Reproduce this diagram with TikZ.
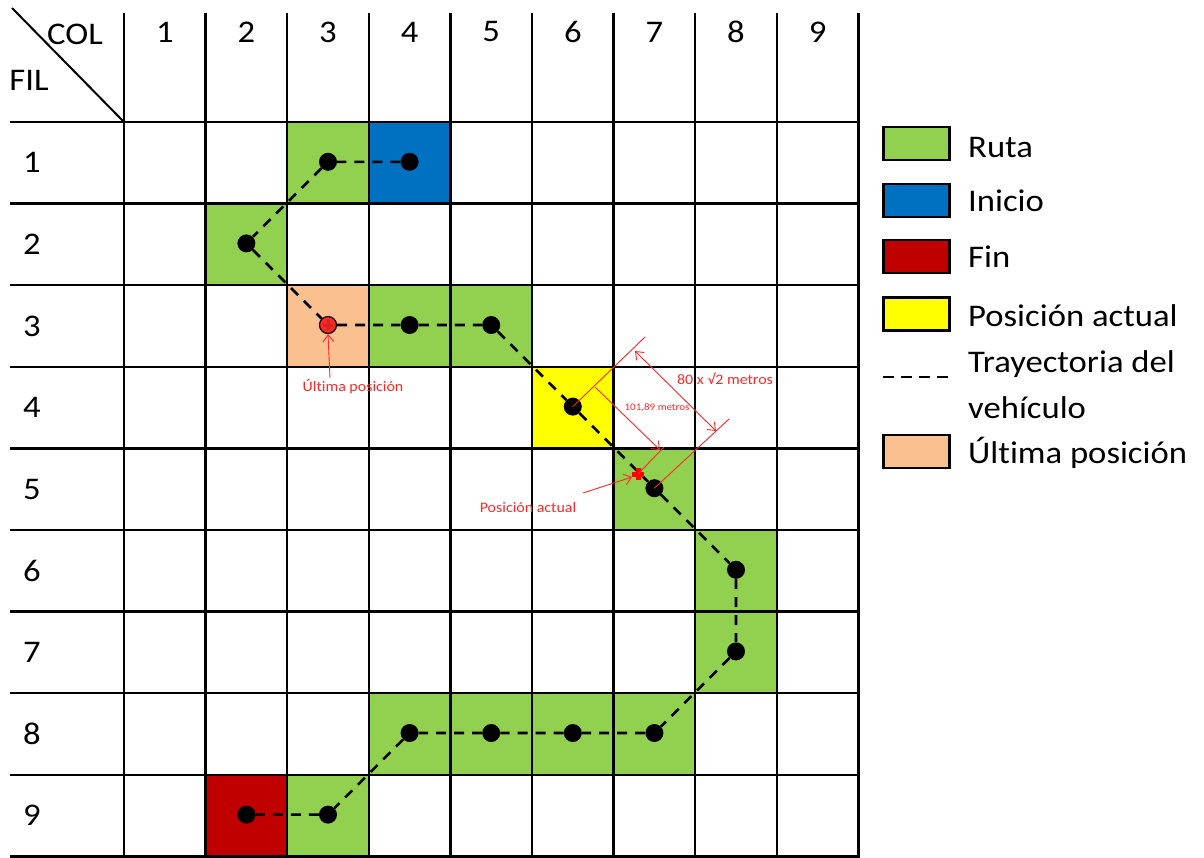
\documentclass[tikz,border=0pt]{standalone}
\usepackage{fontspec}
\setmainfont{Carlito}[FakeStretch=1.1,Ligatures=NoCommon]
\usetikzlibrary{arrows.meta}
\definecolor{ruta}{HTML}{92D050}
\definecolor{inicio}{HTML}{0070C0}
\definecolor{fin}{HTML}{C00000}
\definecolor{actual}{HTML}{FFFF00}
\definecolor{ultima}{HTML}{FAC090}
\definecolor{anno}{HTML}{FF2828}
\newcommand\cellfill[3]{\fill[#3] ({124+(#2-1)*81.6},{122+(#1-1)*81.6}) rectangle ++(81.6,81.6);}
\begin{document}
\begin{tikzpicture}[x=1pt,y=-1pt,
  gridline/.style={line width=2.5pt,black},
  big/.style={font=\fontsize{31.5}{38}\selectfont},
  dot/.style={circle,fill=black,minimum size=18pt,inner sep=0pt},
  traj/.style={line width=2.6pt,dash pattern=on 10pt off 8pt},
  legbox/.style={draw=black,line width=2.5pt,minimum width=66pt,minimum height=33pt,inner sep=0pt},
  legtext/.style={big,anchor=west,inner sep=0pt},
  ann/.style={anno,line width=0.9pt},
  annarrow/.style={ann,-{Straight Barb[length=7pt,width=11pt]}},
  anntext/.style={text=anno,inner sep=0pt}]
\useasboundingbox (0,0) rectangle (1204,857);
% cell colours
\cellfill{1}{3}{ruta}
\cellfill{1}{4}{inicio}
\cellfill{2}{2}{ruta}
\cellfill{3}{3}{ultima}
\cellfill{3}{4}{ruta}
\cellfill{3}{5}{ruta}
\cellfill{4}{6}{actual}
\cellfill{5}{7}{ruta}
\cellfill{6}{8}{ruta}
\cellfill{7}{8}{ruta}
\cellfill{8}{4}{ruta}
\cellfill{8}{5}{ruta}
\cellfill{8}{6}{ruta}
\cellfill{8}{7}{ruta}
\cellfill{9}{2}{fin}
\cellfill{9}{3}{ruta}
% grid
\foreach \i in {0,...,9} \draw[gridline] ({124+\i*81.6},13) -- ({124+\i*81.6},858);
\foreach \j in {0,...,9} \draw[gridline] (10,{122+\j*81.6}) -- (858,{122+\j*81.6});
\draw[line width=2pt] (12,8) -- (124,122);
% headers
\node[big] (hcol) at (75,34) {COL};
\node[big] (hfil) at (29,80) {FIL};
\foreach \c in {1,...,9} \node[big] (c\c) at ({124+(\c-0.5)*81.6},32) {\c};
\foreach \r in {1,...,9} \node[big] (r\r) at (32,{122+(\r-0.5)*81.6}) {\r};
% dots (row, col)
\foreach \n/\r/\c in {1/1/4,2/1/3,3/2/2,5/3/4,6/3/5,7/4/6,8/5/7,9/6/8,10/7/8,11/8/7,12/8/6,13/8/5,14/8/4,15/9/3,16/9/2}
  \node[dot] (d\n) at ({124+(\c-0.5)*81.6},{122+(\r-0.5)*81.6-1}) {};
\node[dot,fill=anno,draw=black,line width=1.2pt,minimum size=17pt] (d4) at ({124+2.5*81.6},{122+2.5*81.6-1}) {};
% trajectory
\draw[traj] (d1) -- (d2) -- (d3) -- (d4) -- (d5) -- (d6) -- (d7) -- (d8) -- (d9) -- (d10) -- (d11) -- (d12) -- (d13) -- (d14) -- (d15) -- (d16);
\draw[anno!85!black,line width=3pt] ([xshift=-5pt]d4.center) -- ([xshift=5pt]d4.center) ([yshift=-5pt]d4.center) -- ([yshift=5pt]d4.center);
% current position cross
\coordinate (cross) at (638,474);
\fill[red] ([shift={(-6,-2.5)}]cross) rectangle ([shift={(6,2.5)}]cross);
\fill[red] ([shift={(-2.5,-6)}]cross) rectangle ([shift={(2.5,6)}]cross);
% dimension annotations
\coordinate (e1a) at (d7.center);
\coordinate (e1b) at (645,337);
\coordinate (e2a) at (d8.center);
\coordinate (e2b) at (729,419);
\coordinate (e3b) at (664,447);
\draw[ann] (e1a) -- (e1b);
\draw[ann] (e2a) -- (e2b);
\draw[ann] (cross) -- (e3b);
\coordinate (m1a) at (635,351);
\coordinate (m1b) at (716,431);
\draw[ann,{Straight Barb[length=7pt,width=11pt]}-{Straight Barb[length=7pt,width=11pt]}] (m1a) -- (m1b);
\coordinate (m2a) at (595,387);
\coordinate (m2b) at (660,450);
\draw[annarrow] (m2a) -- (m2b);
\node[anntext,font=\fontsize{14.5}{17}\selectfont] (l80) at (725,379) {80 x √2 metros};
\node[anntext,font=\fontsize{10}{12}\selectfont] (l101) at (657,408) {101,89 metros};
% labels with arrows
\node[anntext,font=\fontsize{14.5}{17}\selectfont] (lult) at (353,387) {Última posición};
\coordinate (lultarr) at (330,378);
\draw[annarrow] (lultarr) -- (d4.south);
\node[anntext,font=\fontsize{14.5}{17}\selectfont] (lact) at (528,508) {Posición actual};
\coordinate (lactarr) at (583,493);
\draw[annarrow] (lactarr) -- ([shift={(-6,3)}]cross);
% legend
\node[legbox,fill=ruta] (lg1) at (916.5,143.5) {};
\node[legbox,fill=inicio] (lg2) at (916.5,200.5) {};
\node[legbox,fill=fin] (lg3) at (916.5,256.5) {};
\node[legbox,fill=actual] (lg4) at (916.5,314) {};
\coordinate (lg5a) at (883,377);
\coordinate (lg5b) at (950,377);
\draw[line width=2.6pt,dash pattern=on 11pt off 7pt] (lg5a) -- (lg5b);
\node[legbox,fill=ultima] (lg6) at (916.5,451.5) {};
\node[legtext] (t1) at (968,148) {Ruta};
\node[legtext] (t2) at (968,201) {Inicio};
\node[legtext] (t3) at (968,257) {Fin};
\node[legtext] (t4) at (968,316) {Posición actual};
\node[legtext] (t5) at (968,364) {Trayectoria del};
\node[legtext] (t6) at (968,408) {vehículo};
\node[legtext] (t7) at (968,453) {Última posición};
\end{tikzpicture}
\end{document}
